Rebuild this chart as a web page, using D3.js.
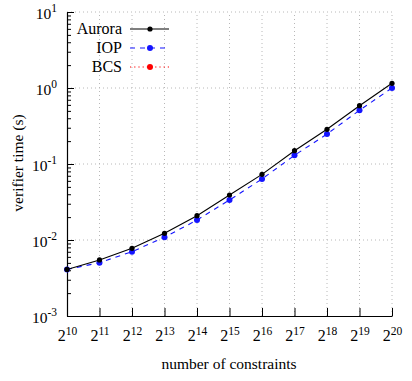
<!DOCTYPE html>
<html lang="en">
<head>
<meta charset="utf-8">
<title>verifier time</title>
<script src="https://cdn.jsdelivr.net/npm/d3@7"></script>
<style>
  body { margin: 0; background: #fff; }
  svg text { font-family: "Liberation Serif", "DejaVu Serif", serif; fill: #000; }
  .grid line { stroke: #b8b8b8; stroke-dasharray: 1,3; }
  .axis path, .axis line { stroke: #000; }
</style>
</head>
<body>
<div id="chart"></div>
<script>
// data
const constraints = [1024, 2048, 4096, 8192, 16384, 32768, 65536, 131072, 262144, 524288, 1048576];
const aurora = [0.0041, 0.00546, 0.00778, 0.01225, 0.0209, 0.0391, 0.0731, 0.1496, 0.286, 0.585, 1.153];
const iop    = [0.0041, 0.00503, 0.00702, 0.01086, 0.0183, 0.0336, 0.0635, 0.130, 0.248, 0.509, 1.0];
const bcs    = [];
const xExps  = [10, 11, 12, 13, 14, 15, 16, 17, 18, 19, 20];
const yExps  = [-3, -2, -1, 0, 1];

const width = 412, height = 381;
const marginLeft = 67, marginRight = 20, marginTop = 12, marginBottom = 65;

const svg = d3.select("#chart").append("svg")
  .attr("width", width).attr("height", height);

const x = d3.scaleLog().base(2)
  .domain([Math.pow(2, 10), Math.pow(2, 20)])
  .range([marginLeft, width - marginRight]);

const y = d3.scaleLog()
  .domain([1e-3, 1e1])
  .range([height - marginBottom, marginTop]);

const xTicks = xExps.map(e => Math.pow(2, e));
const yTicks = yExps.map(e => Math.pow(10, e));
const yMinor = [];
yExps.slice(0, -1).forEach(e => {
  for (let k = 2; k <= 9; k++) yMinor.push(k * Math.pow(10, e));
});

// dotted grid
svg.append("g").attr("class", "grid")
  .selectAll("line.v").data(xTicks.slice(1)).enter().append("line")
  .attr("x1", d => x(d)).attr("x2", d => x(d))
  .attr("y1", y.range()[0]).attr("y2", y.range()[1]);
svg.append("g").attr("class", "grid")
  .selectAll("line.h").data(yTicks.slice(1)).enter().append("line")
  .attr("x1", x.range()[0]).attr("x2", x.range()[1])
  .attr("y1", d => y(d)).attr("y2", d => y(d));

// superscript labels
function supLabel(sel, base, exps, supSize) {
  sel.selectAll(".tick text").each(function(d, i) {
    const t = d3.select(this).text(null);
    t.append("tspan").text(base);
    t.append("tspan").attr("dy", "-0.55em").attr("font-size", supSize)
      .text(exps[i] < 0 ? "-" + (-exps[i]) : exps[i]);
  });
}

// x axis
const gx = svg.append("g").attr("class", "axis")
  .attr("transform", "translate(0," + y.range()[0] + ")")
  .call(d3.axisBottom(x).tickValues(xTicks).tickSizeInner(-8).tickSizeOuter(0).tickPadding(14));
gx.selectAll(".tick text").attr("font-size", 16);
supLabel(gx, "2", xExps, 11.5);
gx.select(".domain").attr("stroke-width", 1.2);

// y axis
const gy = svg.append("g").attr("class", "axis")
  .attr("transform", "translate(" + x.range()[0] + ",0)")
  .call(d3.axisLeft(y).tickValues(yTicks).tickSizeInner(-7).tickSizeOuter(0).tickPadding(10));
gy.selectAll(".tick text").attr("font-size", 15.5).attr("dy", "0.4em");
supLabel(gy, "10", yExps, 11.5);
gy.select(".domain").attr("stroke-width", 1.2);

svg.append("g").attr("class", "axis")
  .attr("transform", "translate(" + x.range()[0] + ",0)")
  .call(d3.axisLeft(y).tickValues(yMinor).tickSizeInner(-4).tickSizeOuter(0).tickFormat(""))
  .select(".domain").remove();

// axis titles
svg.append("text")
  .attr("x", 229).attr("y", 369)
  .attr("text-anchor", "middle").attr("font-size", 15.5)
  .text("number of constraints");
svg.append("text")
  .attr("transform", "translate(23,163) rotate(-90)")
  .attr("text-anchor", "middle").attr("font-size", 15.5)
  .text("verifier time (s)");

// series
const series = [
  { name: "Aurora", values: aurora, color: "#000000", dash: null, r: 2.6, w: 1.1 },
  { name: "IOP", values: iop, color: "#1414ff", dash: "5,5", r: 3, w: 1.1 },
  { name: "BCS", values: bcs, color: "#ff0000", dash: "1.2,3", r: 3, w: 1.1 }
];

const line = d3.line()
  .x((d, i) => x(constraints[i]))
  .y(d => y(d));

series.slice().reverse().forEach(s => {
  svg.append("path").datum(s.values)
    .attr("d", line)
    .attr("fill", "none")
    .attr("stroke", s.color)
    .attr("stroke-width", s.w)
    .attr("stroke-dasharray", s.dash);
  svg.append("g").selectAll("circle").data(s.values).enter().append("circle")
    .attr("cx", (d, i) => x(constraints[i]))
    .attr("cy", d => y(d))
    .attr("r", s.r)
    .attr("fill", s.color);
});

// legend
const legend = svg.append("g").attr("transform", "translate(0,29)");
series.forEach((s, i) => {
  const g = legend.append("g").attr("transform", "translate(0," + i * 19 + ")");
  g.append("text").attr("x", 122).attr("y", 5)
    .attr("text-anchor", "end").attr("font-size", 16)
    .text(s.name);
  g.append("line").attr("x1", 130).attr("x2", 169).attr("y1", 0).attr("y2", 0)
    .attr("stroke", s.color).attr("stroke-width", s.w)
    .attr("stroke-dasharray", s.dash);
  g.append("circle").attr("cx", 150).attr("cy", 0).attr("r", s.r).attr("fill", s.color);
});
</script>
</body>
</html>
